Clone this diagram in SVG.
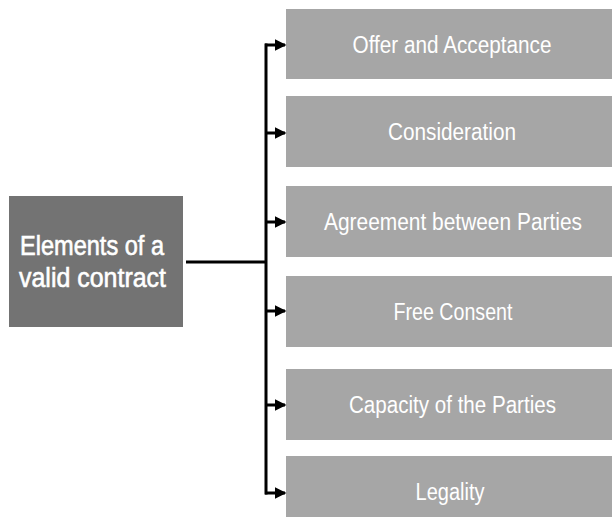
<svg xmlns="http://www.w3.org/2000/svg" width="612" height="517" viewBox="0 0 612 517">
<style>
.item{fill:#a6a6a6}
.main{fill:#737373}
.t{font-family:"Liberation Sans",Arial,sans-serif;fill:#ffffff;text-anchor:middle}
.ti{font-size:23px}
.tm{font-size:27px;stroke:#ffffff;stroke-width:0.6}
.c{stroke:#000;stroke-width:3;fill:none}
</style>
<defs>
<marker id="ah" markerWidth="4" markerHeight="4" refX="3.5" refY="2" orient="auto" markerUnits="strokeWidth">
<path d="M0,0 L4,2 L0,4 Z" fill="#000"/>
</marker>
</defs>
<rect width="612" height="517" fill="#fff"/>
<g id="main">
<rect class="main" x="9" y="196" width="174" height="131"/>
<text class="t tm" x="92" y="255" textLength="144" lengthAdjust="spacingAndGlyphs">Elements of a</text>
<text class="t tm" x="92.5" y="287" textLength="147" lengthAdjust="spacingAndGlyphs">valid contract</text>
</g>
<g id="n1"><rect class="item" x="286" y="9" width="326" height="70"/><text class="t ti" x="452" y="52.5" textLength="199" lengthAdjust="spacingAndGlyphs">Offer and Acceptance</text></g>
<g id="n2"><rect class="item" x="286" y="96" width="326" height="71"/><text class="t ti" x="452" y="140" textLength="128" lengthAdjust="spacingAndGlyphs">Consideration</text></g>
<g id="n3"><rect class="item" x="286" y="186" width="326" height="71"/><text class="t ti" x="453" y="230" textLength="258" lengthAdjust="spacingAndGlyphs">Agreement between Parties</text></g>
<g id="n4"><rect class="item" x="286" y="276" width="326" height="71"/><text class="t ti" x="453" y="319.5" textLength="119" lengthAdjust="spacingAndGlyphs">Free Consent</text></g>
<g id="n5"><rect class="item" x="286" y="369" width="326" height="71"/><text class="t ti" x="452.5" y="413" textLength="207" lengthAdjust="spacingAndGlyphs">Capacity of the Parties</text></g>
<g id="n6"><rect class="item" x="286" y="456" width="326" height="61"/><text class="t ti" x="450" y="499.5" textLength="69" lengthAdjust="spacingAndGlyphs">Legality</text></g>
<g id="connectors">
<path class="c" d="M186,262 H266"/>
<path class="c" d="M266,43.5 V494.5"/>
<path class="c" d="M265,45 H285" marker-end="url(#ah)"/>
<path class="c" d="M265,133 H285" marker-end="url(#ah)"/>
<path class="c" d="M265,222 H285" marker-end="url(#ah)"/>
<path class="c" d="M265,311 H285" marker-end="url(#ah)"/>
<path class="c" d="M265,405 H285" marker-end="url(#ah)"/>
<path class="c" d="M265,493 H285" marker-end="url(#ah)"/>
</g>
</svg>
